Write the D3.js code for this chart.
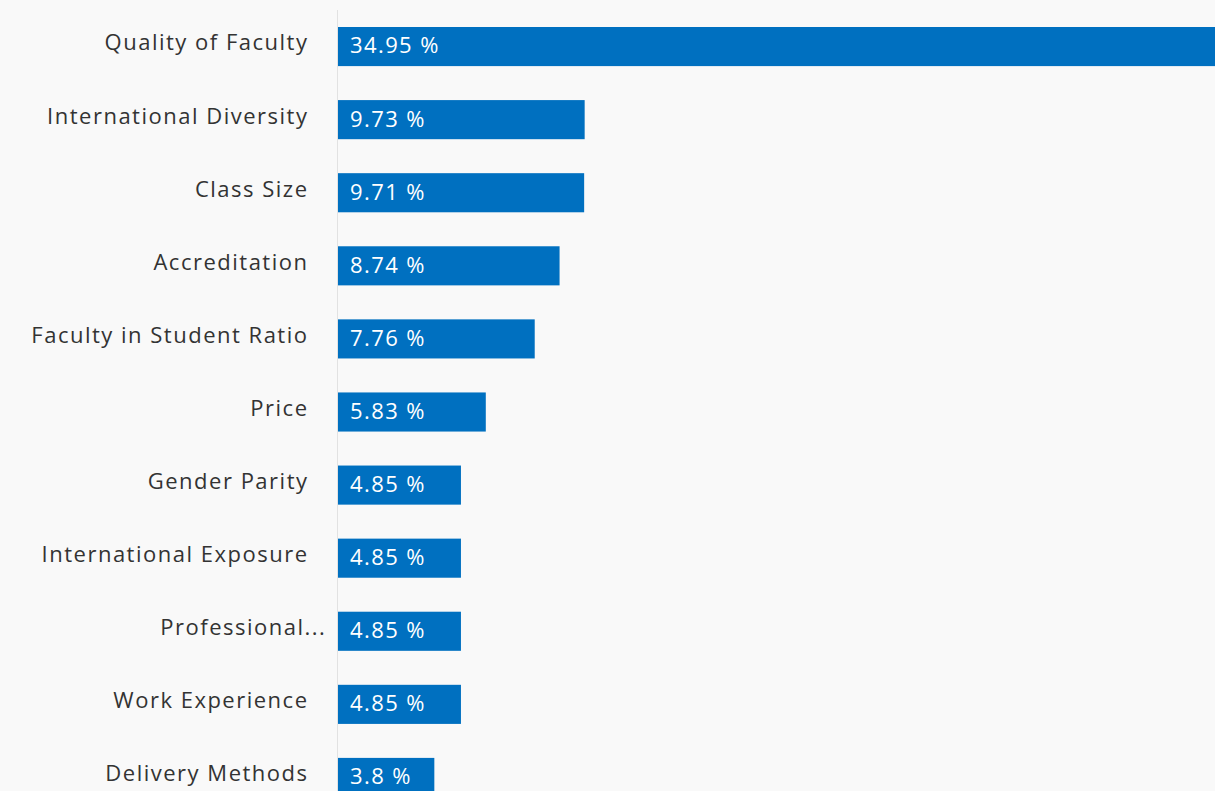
<!DOCTYPE html>
<html>
<head>
<meta charset="utf-8">
<script src="https://cdn.jsdelivr.net/npm/d3@7"></script>
<style>
  html, body { margin: 0; padding: 0; background: #f9f9f9; overflow: hidden; }
  .label { font-family: "Open Sans", sans-serif; font-size: 22px; letter-spacing: 1.5px; fill: #333; }
  .value { font-family: "Open Sans", sans-serif; font-size: 22px; letter-spacing: 1.4px; fill: #fff; }
</style>
</head>
<body>
<div id="chart"></div>
<script>
const categories = [
  "Quality of Faculty",
  "International Diversity",
  "Class Size",
  "Accreditation",
  "Faculty in Student Ratio",
  "Price",
  "Gender Parity",
  "International Exposure",
  "Professional...",
  "Work Experience",
  "Delivery Methods",
];
const values = [34.95, 9.73, 9.71, 8.74, 7.76, 5.83, 4.85, 4.85, 4.85, 4.85, 3.8];

const width = 1215;
const height = 791;
const margin = { top: 27, left: 338 };

const svg = d3.select("#chart")
  .append("svg")
  .attr("width", width)
  .attr("height", height);

const x = d3.scaleLinear()
  .domain([0, 34.95])
  .range([margin.left, 1224]);

const y = d3.scaleBand()
  .domain(categories)
  .range([margin.top, 797])
  .paddingInner(0.465)
  .paddingOuter(0);

// axis line
svg.append("line")
  .attr("x1", x(0) - 0.5)
  .attr("x2", x(0) - 0.5)
  .attr("y1", 10)
  .attr("y2", height)
  .attr("stroke", "#e2e2e2")
  .attr("stroke-width", 1);

const rows = svg.append("g")
  .selectAll("g")
  .data(categories)
  .join("g");

rows.append("rect")
  .attr("x", x(0))
  .attr("y", (d) => y(d))
  .attr("width", (d, i) => x(values[i]) - x(0))
  .attr("height", y.bandwidth())
  .attr("fill", "#0070c0");

const labelX = x(0) - 29.5;

rows.append("text")
  .attr("class", "label")
  .attr("x", labelX)
  .attr("y", (d) => y(d) + y.bandwidth() / 2 - 2)
  .attr("text-anchor", "end")
  .attr("dominant-baseline", "middle")
  .text((d) => d)
  // a truncated label lets its ellipsis hang past the label edge
  .filter((d) => d.endsWith("..."))
  .style("letter-spacing", "1.5px")
  .attr("x", function (d) {
    const hang = this.getSubStringLength(d.length - 3, 3);
    return labelX + hang - 4;
  });

rows.append("text")
  .attr("class", "value")
  .attr("x", x(0) + 12)
  .attr("y", (d) => y(d) + y.bandwidth() / 2 + 1)
  .attr("dominant-baseline", "middle")
  .text((d, i) => `${values[i]} %`);
</script>
</body>
</html>
